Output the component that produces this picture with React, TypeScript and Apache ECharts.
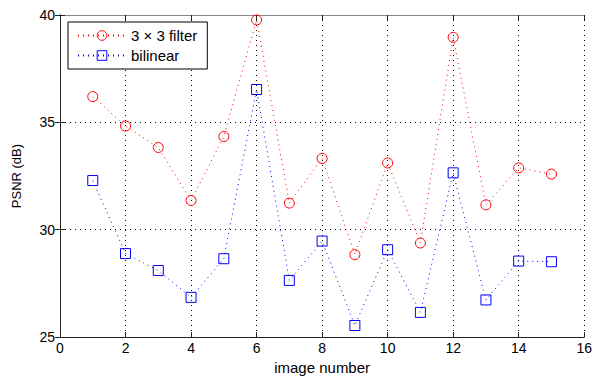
import React, { useEffect, useRef } from "react";
import * as echarts from "echarts";

const imageNumbers = [1, 2, 3, 4, 5, 6, 7, 8, 9, 10, 11, 12, 13, 14, 15];
const filter3x3 = [36.2, 34.83, 33.83, 31.36, 34.34, 39.77, 31.24, 33.32, 28.84, 33.11, 29.38, 38.96, 31.16, 32.88, 32.59];
const bilinear = [32.29, 28.89, 28.1, 26.85, 28.65, 36.53, 27.64, 29.47, 25.54, 29.07, 26.15, 32.65, 26.73, 28.54, 28.51];
const seriesNames = ["3 \u00d7 3 filter", "bilinear"];

const FONT = "Liberation Sans, Arial, Helvetica, sans-serif";

export default function App() {
  const ref = useRef<HTMLDivElement>(null);
  useEffect(() => {
    if (!ref.current) return;
    const chart = echarts.init(ref.current, undefined, { renderer: "svg" });
    const gridLine = { show: true, lineStyle: { color: "#000", type: [1, 4] as any, width: 1 } };
    const axisBase = {
      axisLine: { show: true, onZero: false, lineStyle: { color: "#222", width: 1 } },
      axisTick: { show: true, inside: true, length: 5, lineStyle: { color: "#222" } },
      axisLabel: { color: "#000", fontSize: 14, fontFamily: FONT },
    };
    chart.setOption({
      animation: false,
      backgroundColor: "#fff",
      grid: { left: 60, right: 8, top: 15, bottom: 37 },
      legend: {
        left: 68,
        top: 22,
        orient: "vertical",
        backgroundColor: "#fff",
        borderColor: "#000",
        borderWidth: 1,
        borderRadius: 0,
        padding: [6, 10, 6, 9],
        itemGap: 5,
        itemWidth: 48,
        itemHeight: 12,
        itemStyle: { borderWidth: 1 },
        textStyle: { color: "#000", fontSize: 15, fontFamily: FONT },
        data: seriesNames,
      },
      xAxis: [
        {
          type: "value",
          min: 0,
          max: 16,
          interval: 2,
          ...axisBase,
          axisLabel: { ...axisBase.axisLabel, margin: 4 },
          splitLine: gridLine,
          name: "image number",
          nameLocation: "middle",
          nameGap: 20,
          nameTextStyle: { color: "#000", fontSize: 15, fontFamily: FONT },
        },
        {
          type: "value",
          position: "top",
          min: 0,
          max: 16,
          interval: 2,
          axisLine: { show: true, lineStyle: { color: "#888", width: 1 } },
          axisTick: { show: true, inside: true, length: 5, lineStyle: { color: "#222" } },
          axisLabel: { show: false },
          splitLine: { show: false },
        },
      ],
      yAxis: [
        {
          type: "value",
          min: 25,
          max: 40,
          interval: 5,
          ...axisBase,
          axisLabel: { ...axisBase.axisLabel, margin: 5 },
          splitLine: gridLine,
          name: "PSNR (dB)",
          nameLocation: "middle",
          nameGap: 37,
          nameTextStyle: { color: "#000", fontSize: 13, fontFamily: FONT },
        },
        {
          type: "value",
          position: "right",
          min: 25,
          max: 40,
          interval: 5,
          axisLine: { show: true, lineStyle: { color: "#222", width: 1 } },
          axisTick: { show: true, inside: true, length: 5, lineStyle: { color: "#222" } },
          axisLabel: { show: false },
          splitLine: { show: false },
        },
      ],
      series: [
        {
          name: seriesNames[0],
          type: "line",
          data: imageNumbers.map((x, i) => [x, filter3x3[i]]),
          symbol: "circle",
          symbolSize: 10,
          itemStyle: { color: "rgba(255,255,255,0)", borderColor: "#ff0000", borderWidth: 1 },
          lineStyle: { color: "#ff0000", width: 1, type: [1, 4] },
          z: 3,
        },
        {
          name: seriesNames[1],
          type: "line",
          data: imageNumbers.map((x, i) => [x, bilinear[i]]),
          symbol: "rect",
          symbolSize: 10,
          itemStyle: { color: "rgba(255,255,255,0)", borderColor: "#0000ff", borderWidth: 1 },
          lineStyle: { color: "#0000ff", width: 1, type: [1, 4] },
          z: 3,
        },
      ],
    });
    return () => chart.dispose();
  }, []);
  return <div ref={ref} style={{ width: 595, height: 380, position: "absolute", left: 0, top: 0 }} />;
}
